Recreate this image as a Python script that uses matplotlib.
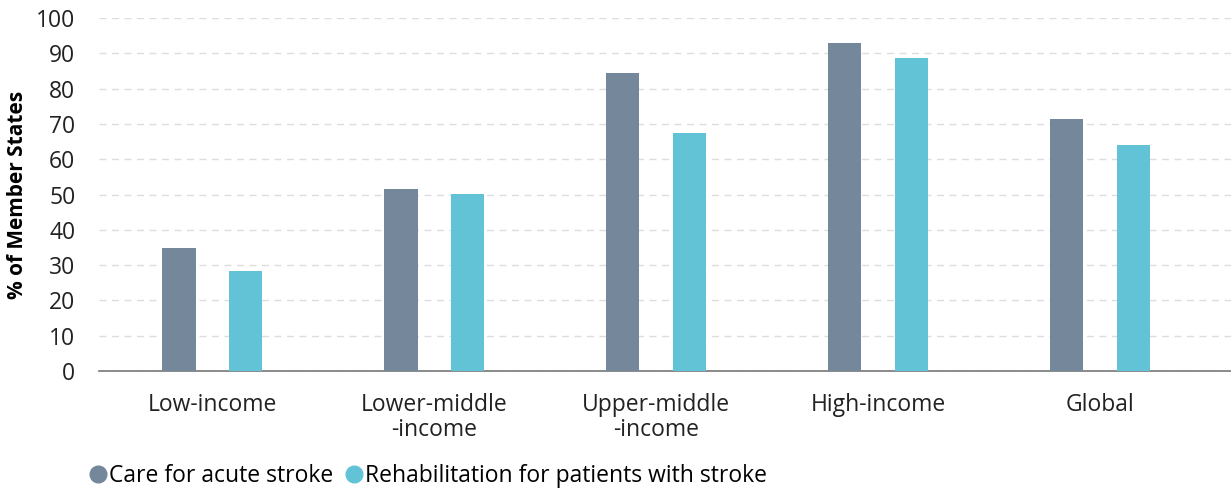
import matplotlib.pyplot as plt
import numpy as np
from matplotlib.lines import Line2D

categories = ['Low-income', 'Lower-middle\n-income', 'Upper-middle\n-income',
              'High-income', 'Global']
acute_care = [34.8, 51.6, 84.4, 92.9, 71.3]
rehab = [28.3, 50.1, 67.4, 88.7, 64.0]
series_names = ['Care for acute stroke', 'Rehabilitation for patients with stroke']
colors = ['#74879b', '#62c3d7']

plt.rcParams['font.family'] = ['Open Sans', 'DejaVu Sans']

fig = plt.figure(figsize=(12.31, 4.91), dpi=100)
ax = fig.add_axes([99 / 1231, 1 - 371 / 491, 1132 / 1231, 353 / 491])

x = np.arange(len(categories))
w = 0.15
ax.bar(x - w, acute_care, w, color=colors[0], zorder=3)
ax.bar(x + w, rehab, w, color=colors[1], zorder=3)

ax.set_xlim(-0.51, 4.59)
ax.set_ylim(0, 100)
ax.set_yticks(range(0, 101, 10))
ax.set_xticks(x)
ax.set_xticklabels(categories, fontsize=16.5, color='#222222', linespacing=1.05)
ax.tick_params(axis='y', labelsize=16.5, colors='#222222', length=0, pad=17)
ax.tick_params(axis='x', length=0, pad=16)
ax.grid(axis='y', color='#dddddd', linestyle=(0, (5, 4)), linewidth=1, zorder=0)
for s in ['top', 'right', 'left']:
    ax.spines[s].set_visible(False)
ax.spines['bottom'].set_color('#777777')
ax.spines['bottom'].set_linewidth(1.2)
ax.set_ylabel('% of Member States', fontsize=15, fontweight='bold')
ax.yaxis.set_label_coords(-0.063, 0.5)

handles = [Line2D([], [], marker='o', linestyle='', markersize=12,
                  markerfacecolor=c, markeredgecolor=c) for c in colors]
fig.legend(handles, series_names, loc='center left', bbox_to_anchor=(77 / 1231, 1 - 476 / 491),
           ncol=2, frameon=False, fontsize=16.5, handletextpad=0.0, columnspacing=0.4,
           handlelength=1.0, borderaxespad=0)

fig.savefig('out.png', dpi=100)
